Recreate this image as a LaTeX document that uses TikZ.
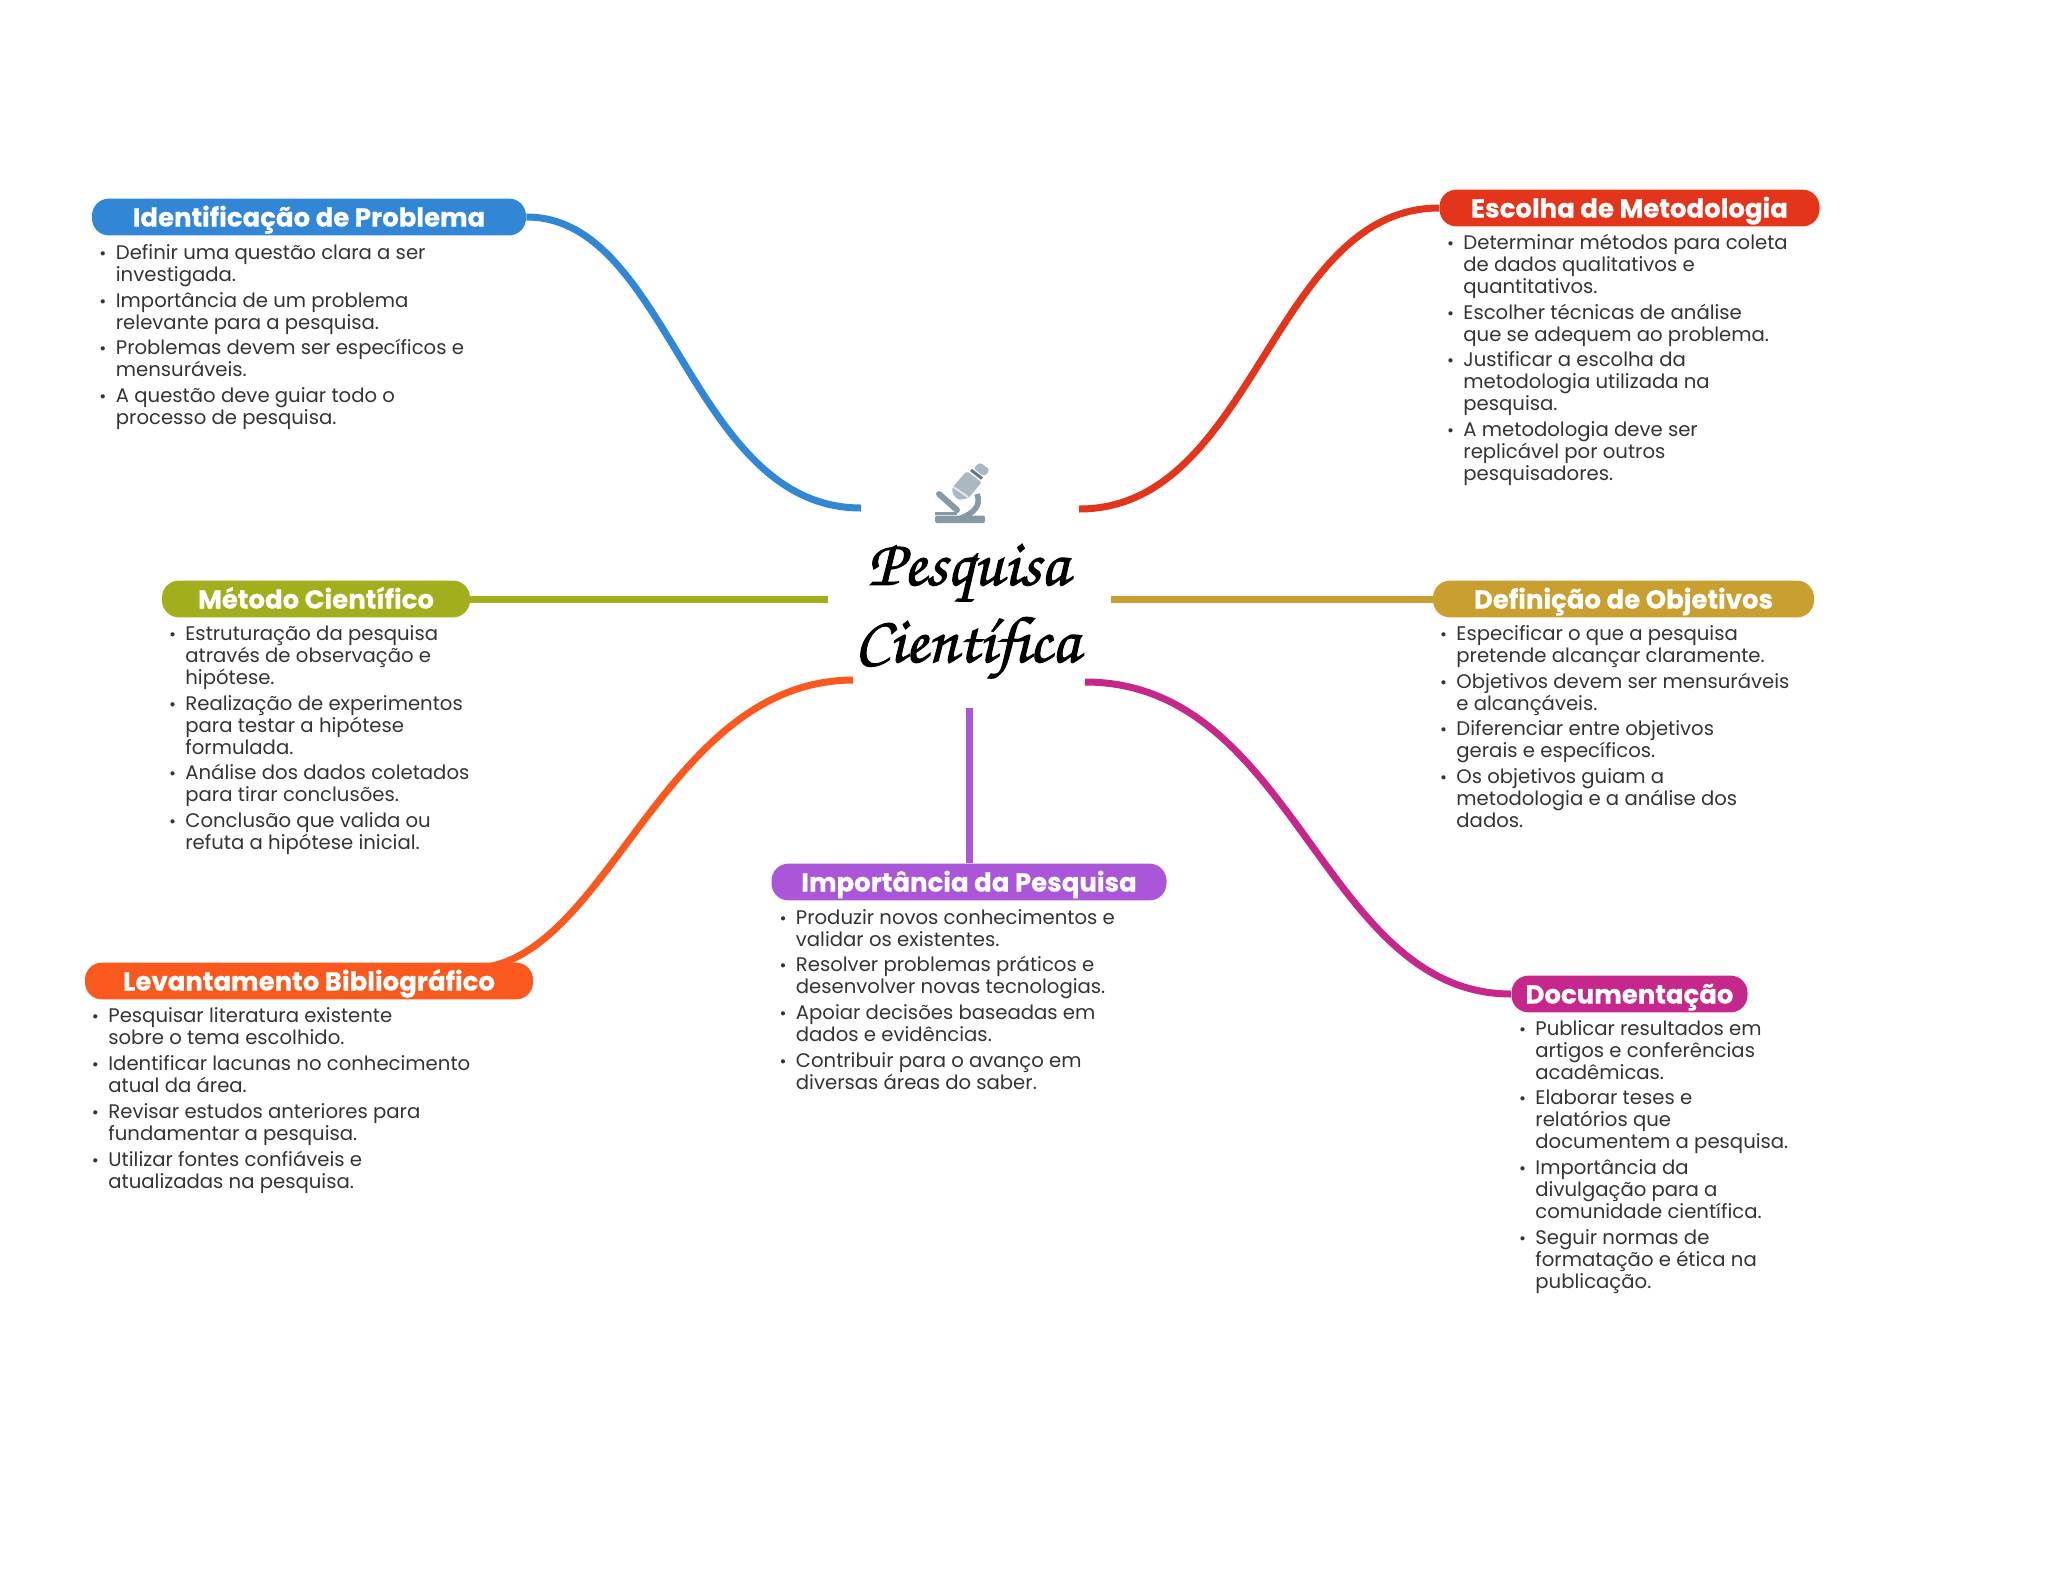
\documentclass[tikz,border=0pt]{standalone}
\usepackage{fontspec}
\setmainfont{Poppins}
\newfontfamily\pillfont[BoldFeatures={FakeBold=0.4}]{Poppins}
\newfontfamily\titlefont[FakeBold=1.5]{TeX Gyre Chorus}
\usetikzlibrary{backgrounds,calc}
\definecolor{cblue}{HTML}{3186D6}
\definecolor{cred}{HTML}{E2351B}
\definecolor{colive}{HTML}{A2AE1C}
\definecolor{cgold}{HTML}{C9A02F}
\definecolor{corange}{HTML}{F9591E}
\definecolor{cpurple}{HTML}{A957D8}
\definecolor{cmag}{HTML}{C6278A}
\definecolor{ctext}{HTML}{333333}
\definecolor{mdark}{HTML}{8899A6}
\definecolor{mlight}{HTML}{AAB8C2}
\definecolor{mdeep}{HTML}{66757F}
\newcommand\bul{\llap{\fontsize{8.5}{8.5}\selectfont •\hspace{4.7pt}}}
\newcommand\gp{\\[1.85pt]}
\tikzset{
 pill/.style={fill=#1,rounded corners=8.5pt,inner sep=0pt,minimum height=18.4pt,text=white,text height=9.5pt,text depth=0pt,font=\fontsize{13}{15}\selectfont\pillfont\bfseries},
 block/.style={anchor=base west,inner sep=0pt,align=left,text=ctext,font=\fontsize{9.83}{11}\selectfont},
 conn/.style={draw=#1,line width=3.5pt},
 title/.style={inner sep=0pt,anchor=base,font=\fontsize{33}{33}\selectfont\titlefont},
}
\begin{document}
\begin{tikzpicture}[x=0.5pt,y=-0.5pt]
\useasboundingbox (0,0) rectangle (2048,1569);
% pills
\node[pill=cblue,minimum width=217pt] (p1) at (309,217) {Identificação de Problema};
\node[pill=cred,minimum width=190pt] (p2) at (1629.5,208) {Escolha de Metodologia};
\node[pill=colive,minimum width=154pt] (p3) at (316,599) {Método Científico};
\node[pill=cgold,minimum width=190.5pt] (p4) at (1623.5,599) {Definição de Objetivos};
\node[pill=corange,minimum width=224pt] (p5) at (309,981) {Levantamento Bibliográfico};
\node[pill=cpurple,minimum width=197.5pt] (p6) at (969,882) {Importância da Pesquisa};
\node[pill=cmag,minimum width=118pt] (p7) at (1629.5,994) {Documentação};
% centre
\node[title] (t1) at (968,585) {Pesquisa};
\node[title] (t2) at (967,662) {Científica};
% microscope icon
\fill[mdark,rounded corners=1pt] (935,515.5) rectangle (985,523);
\fill[mdark] (935,512) rectangle (957,514.5);
\draw[mdark,line width=3pt,line cap=round] (939,494) -- (957,510);
\draw[mdark,line width=2.8pt] (977,494) .. controls (982,506) and (972,514) .. (961,518);
\fill[mlight,rounded corners=1pt] (951.7,488.3) -- (966.7,471) -- (981.7,482.3) -- (968.3,498.3) -- (958.3,500) -- (953.3,495) -- cycle;
\draw[mlight!35!white,line width=1pt] (953.5,487) -- (968,497);
\fill[mlight,rounded corners=1.5pt] (973.3,468.3) -- (980,462.3) -- (990,470) -- (984.3,476.7) -- cycle;
\draw[mdeep,line width=1.5pt] (971,470) -- (982,478.5);
% free ends
\coordinate (e1) at (861,508);
\coordinate (e2) at (1079,509);
\coordinate (e3) at (828,599);
\coordinate (e4) at (1111,599);
\coordinate (e5) at (853,680);
\coordinate (e5b) at (480,968);
\coordinate (e6) at (969,708);
\coordinate (e7) at (1085,682);
\begin{scope}[on background layer]
\draw[conn=cblue] (p1.east) .. controls (670,217) and (690,508) .. (e1);
\draw[conn=cred] (e2) .. controls (1255,509) and (1272,208) .. (p2.west);
\draw[conn=colive] (p3.east) -- (e3);
\draw[conn=cgold] (p4.west) -- (e4);
\draw[conn=corange] (e5) .. controls (665,681) and (610,955) .. (e5b);
\draw[conn=cpurple] (p6.north) -- (e6);
\draw[conn=cmag] (e7) .. controls (1296,682) and (1322,994) .. (p7.west);
\end{scope}
% blocks (each positioned by its last baseline)
\node[block] (b1) at (115.5,424.6) {\bul Definir uma questão clara a ser\\investigada.\gp
\bul Importância de um problema\\relevante para a pesquisa.\gp
\bul Problemas devem ser específicos e\\mensuráveis.\gp
\bul A questão deve guiar todo o\\processo de pesquisa.};
\node[block] (b2) at (1463,480.6) {\bul Determinar métodos para coleta\\de dados qualitativos e\\quantitativos.\gp
\bul Escolher técnicas de análise\\que se adequem ao problema.\gp
\bul Justificar a escolha da\\metodologia utilizada na\\pesquisa.\gp
\bul A metodologia deve ser\\replicável por outros\\pesquisadores.};
\node[block] (b3) at (185,849.6) {\bul Estruturação da pesquisa\\através de observação e\\hipótese.\gp
\bul Realização de experimentos\\para testar a hipótese\\formulada.\gp
\bul Análise dos dados coletados\\para tirar conclusões.\gp
\bul Conclusão que valida ou\\refuta a hipótese inicial.};
\node[block] (b4) at (1456,827.6) {\bul Especificar o que a pesquisa\\pretende alcançar claramente.\gp
\bul Objetivos devem ser mensuráveis\\e alcançáveis.\gp
\bul Diferenciar entre objetivos\\gerais e específicos.\gp
\bul Os objetivos guiam a\\metodologia e a análise dos\\dados.};
\node[block] (b5) at (108,1188) {\bul Pesquisar literatura existente\\sobre o tema escolhido.\gp
\bul Identificar lacunas no conhecimento\\atual da área.\gp
\bul Revisar estudos anteriores para\\fundamentar a pesquisa.\gp
\bul Utilizar fontes confiáveis e\\atualizadas na pesquisa.};
\node[block] (b6) at (795.5,1089.3) {\bul Produzir novos conhecimentos e\\validar os existentes.\gp
\bul Resolver problemas práticos e\\desenvolver novas tecnologias.\gp
\bul Apoiar decisões baseadas em\\dados e evidências.\gp
\bul Contribuir para o avanço em\\diversas áreas do saber.};
\node[block] (b7) at (1535,1288.3) {\bul Publicar resultados em\\artigos e conferências\\acadêmicas.\gp
\bul Elaborar teses e\\relatórios que\\documentem a pesquisa.\gp
\bul Importância da\\divulgação para a\\comunidade científica.\gp
\bul Seguir normas de\\formatação e ética na\\publicação.};
\end{tikzpicture}
\end{document}
